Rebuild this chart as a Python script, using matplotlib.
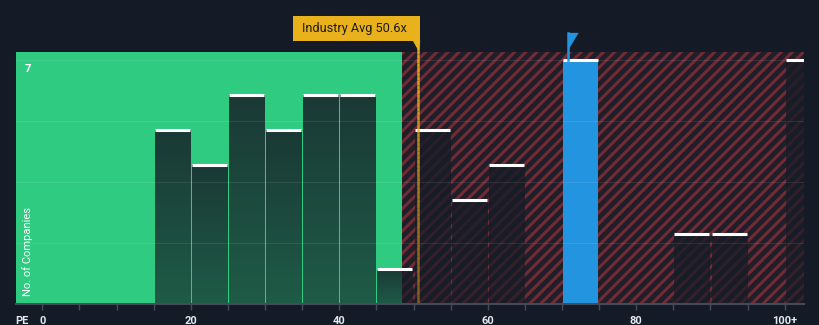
import numpy as np
import matplotlib
matplotlib.use('Agg')
import matplotlib.pyplot as plt
from matplotlib.patches import Rectangle, Polygon
from matplotlib.collections import LineCollection
from matplotlib.colors import LinearSegmentedColormap

# PE distribution, bins of width 5 (last bin is 100+)
bin_left = [0, 5, 10, 15, 20, 25, 30, 35, 40, 45, 50, 55, 60, 65, 70, 75, 80, 85, 90, 95, 100]
counts   = [0, 0, 0, 5, 4, 6, 5, 6, 6, 1, 5, 3, 4, 0, 7, 0, 0, 2, 2, 0, 7]
company_bin = 70          # bin holding the company itself
industry_avg = 50.6
fair_split = 48.5         # green / red boundary
tick_vals = [0, 20, 40, 60, 80, 100]
tick_text = ['0', '20', '40', '60', '80', '100+']

bg = '#151b26'
green = '#2ecb81'
red_bg = '#1f1e29'
red_hatch = '#712b35'
blue = '#2394df'
gold = '#e9b11c'

plt.rcParams['font.family'] = ['Roboto', 'DejaVu Sans']
plt.rcParams['hatch.linewidth'] = 2.2
plt.rcParams['hatch.color'] = red_hatch

fig = plt.figure(figsize=(8.2, 3.25), dpi=100, facecolor=bg)
ax = fig.add_axes([16/820, 21/325, 788/820, 252/325])
ax.set_facecolor(bg)
xmin, xmax = -3.55, 102.6
ymax = 7.24

# coloured zones
ax.add_patch(Rectangle((xmin, 0), fair_split - xmin, ymax, facecolor=green, edgecolor='none', zorder=0))
ax.add_patch(Rectangle((fair_split, 0), xmax - fair_split, ymax, facecolor=red_bg, edgecolor=red_hatch,
                       hatch='///', linewidth=0, zorder=0))

# bars: dark shaded overlay, blue for the company bin
gap = 0.14
shade = LinearSegmentedColormap.from_list('shade', [(0.09, 0.11, 0.15, 0.64), (0.09, 0.11, 0.15, 0.84)])
grad = np.linspace(0, 1, 256).reshape(-1, 1)
for left, c in zip(bin_left, counts):
    if c == 0:
        continue
    if left == company_bin:
        ax.bar(left + gap, c, width=5 - 2*gap, align='edge', color=blue, zorder=3)
    else:
        b = ax.bar(left + gap, c, width=5 - 2*gap, align='edge', color='none', zorder=3)[0]
        im = ax.imshow(grad, extent=(left + gap, left + 5 - gap, 0, c), origin='lower', cmap=shade,
                       aspect='auto', zorder=3, interpolation='bilinear')
        im.set_clip_path(b)
    ax.hlines(c, left + gap, left + 5 - gap, color='white', lw=2.2, zorder=5)

# faint grid
for g in [1.75, 3.5, 5.25, 7]:
    ax.axhline(g, color='white', alpha=0.09, lw=0.8, zorder=4)

# industry average line, fading downward
n = 60
ys = np.linspace(0, 1.044, n + 1)
segs = [[(industry_avg, ys[i]), (industry_avg, ys[i+1])] for i in range(n)]
alphas = np.linspace(0.45, 1.0, n)
cols = [(0.91, 0.66, 0.10, a) for a in alphas]
lc = LineCollection(segs, colors=cols, linewidths=1.8, transform=ax.get_xaxis_transform(), clip_on=False, zorder=6)
ax.add_collection(lc)

# label box for the industry average
xt = ax.get_xaxis_transform()
ax.add_patch(Rectangle((33.8, 1.044), 50.9 - 33.8, 0.099, transform=xt, facecolor=gold, edgecolor='none',
                       clip_on=False, zorder=7))
ax.add_patch(Polygon([(49.9, 1.045), (50.9, 1.045), (50.75, 1.0)], closed=True, transform=xt,
                     facecolor=gold, edgecolor='none', clip_on=False, zorder=7))
ax.text(42.0, 1.094, 'Industry Avg 50.6x', transform=xt, ha='center', va='center', fontsize=9.2,
        color='#1d1d1d', zorder=8)

# flag above the company bar
fx = 70.85
ax.plot([fx, fx], [counts[bin_left.index(company_bin)], 7.79], color=blue, lw=1.8, clip_on=False, zorder=6)
ax.add_patch(Polygon([(fx, 7.79), (72.25, 7.79), (fx, 7.3)], closed=True, facecolor=blue, edgecolor='none',
                     clip_on=False, zorder=6))

ax.set_xlim(xmin, xmax)
ax.set_ylim(0, ymax)

# axes styling
for s in ['top', 'right', 'left']:
    ax.spines[s].set_visible(False)
ax.spines['bottom'].set_color('#454c5a')
ax.spines['bottom'].set_linewidth(1.4)
ax.spines['bottom'].set_zorder(6)
ax.set_yticks([])
ax.set_xticks(np.arange(0, 101, 5), minor=True)
ax.set_xticks(tick_vals)
ax.set_xticklabels(tick_text)
ax.tick_params(axis='x', which='both', direction='out', length=4, width=1, color='#454c5a',
               colors='#e6e8ec', labelsize=8, pad=5)
for lab in ax.get_xticklabels():
    lab.set_fontweight('semibold')
ax.text(-2.75, -0.475, 'PE', ha='center', va='center', fontsize=8, color='#e6e8ec', fontweight='semibold')

ax.text(-1.93, 6.75, '7', ha='center', va='center', fontsize=8, color='white', fontweight='semibold', zorder=8)
ax.text(-1.93, 0.23, 'No. of Companies', rotation=90, ha='center', va='bottom', fontsize=8, color='white', zorder=8)

fig.savefig('out.png', dpi=100, facecolor=bg)
